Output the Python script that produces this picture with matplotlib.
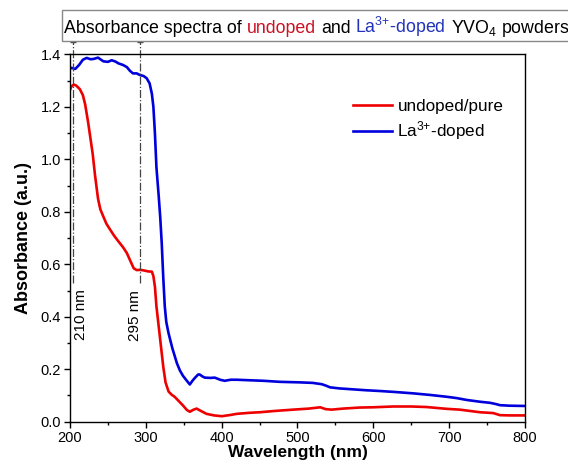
import matplotlib
matplotlib.use("Agg")
import matplotlib.pyplot as plt
from matplotlib.patches import Rectangle

plt.rcParams['font.family'] = ['Liberation Sans', 'DejaVu Sans']
plt.rcParams['mathtext.fontset'] = 'custom'
plt.rcParams['mathtext.rm'] = 'Liberation Sans'
plt.rcParams['mathtext.default'] = 'regular'

# undoped / pure YVO4
wl_pure = [200, 202, 205, 208, 213, 217, 220, 224, 227, 230, 233, 237, 240, 244, 248, 253,
           258, 264, 270, 275, 279, 284, 288, 292, 297, 303, 308, 310, 312, 314, 319,
           323, 326, 330, 334, 338, 343, 349, 354, 358, 363, 367, 372, 380, 390, 400,
           410, 420, 437, 450, 470, 494, 515, 530, 537, 545, 560, 582, 600, 626, 650,
           670, 697, 714, 741, 758, 767, 780, 800]
abs_pure = [1.265, 1.279, 1.285, 1.282, 1.268, 1.245, 1.21, 1.14, 1.08, 1.02, 0.94, 0.85,
            0.81, 0.782, 0.755, 0.732, 0.71, 0.687, 0.665, 0.643, 0.617, 0.585, 0.578,
            0.579, 0.577, 0.573, 0.572, 0.555, 0.515, 0.44, 0.312, 0.21, 0.15, 0.115,
            0.103, 0.095, 0.08, 0.062, 0.045, 0.038, 0.046, 0.05, 0.042, 0.03, 0.024,
            0.021, 0.025, 0.03, 0.034, 0.036, 0.041, 0.046, 0.05, 0.055, 0.048, 0.046,
            0.05, 0.054, 0.055, 0.058, 0.058, 0.056, 0.049, 0.046, 0.036, 0.033, 0.025,
            0.024, 0.024]

# La3+-doped YVO4
wl_la = [200, 202, 207, 212, 217, 222, 227, 231, 237, 241, 244, 250, 255, 260, 264, 270,
         275, 279, 283, 288, 292, 297, 301, 305, 308, 310, 312, 314, 317, 319, 321, 323,
         325, 327, 330, 335, 341, 345, 349, 353, 358, 362, 365, 369, 371, 375, 378, 385,
         391, 398, 404, 412, 420, 437, 455, 477, 503, 520, 532, 538, 543, 555, 565, 590,
         609, 630, 653, 675, 697, 710, 723, 741, 754, 762, 767, 780, 800]
abs_la = [1.345, 1.349, 1.345, 1.36, 1.38, 1.387, 1.382, 1.383, 1.388, 1.38, 1.374, 1.372,
          1.378, 1.373, 1.366, 1.36, 1.352, 1.338, 1.328, 1.328, 1.322, 1.318, 1.31, 1.29,
          1.25, 1.2, 1.1, 0.97, 0.86, 0.78, 0.68, 0.55, 0.44, 0.38, 0.337, 0.28, 0.223,
          0.195, 0.175, 0.16, 0.142, 0.158, 0.168, 0.18, 0.18, 0.172, 0.168, 0.167, 0.168,
          0.16, 0.156, 0.16, 0.16, 0.158, 0.156, 0.152, 0.15, 0.148, 0.143, 0.137, 0.131,
          0.127, 0.125, 0.12, 0.117, 0.113, 0.108, 0.102, 0.095, 0.09, 0.083, 0.076, 0.072,
          0.067, 0.063, 0.061, 0.06]

# band edge markers
edge_wl = [204, 292]
edge_labels = ["210 nm", "295 nm"]

W, H = 568, 465
fig = plt.figure(figsize=(W / 100, H / 100), dpi=100)
ax = fig.add_axes([0.1232, 0.0931, 0.8011, 0.7897])

la_label = 'La$^{3{+}}$-doped'
ax.plot(wl_pure, abs_pure, color='#ee0000', lw=1.9, label='undoped/pure')
ax.plot(wl_la, abs_la, color='#0000dd', lw=1.9, label=la_label)

# dash-dot guide lines, going up out of the axes
for w in edge_wl:
    ax.plot([w, w], [0.53, 1.448], color='#444444', lw=0.9, ls='-.', clip_on=False)
    ax.plot([w], [1.446], marker='_', ms=4, color='#444444', mew=1, clip_on=False)
ax.text(214.5, 0.407, edge_labels[0], rotation=90, ha='center', va='center', fontsize=11)
ax.text(286, 0.405, edge_labels[1], rotation=90, ha='center', va='center', fontsize=11)

ax.set_xlim(200, 800)
ax.set_ylim(0, 1.4)
ax.set_xticks([200, 300, 400, 500, 600, 700, 800])
ax.set_xticks(range(250, 800, 100), minor=True)
ax.set_yticks([0.0, 0.2, 0.4, 0.6, 0.8, 1.0, 1.2, 1.4])
ax.set_yticks([0.1, 0.3, 0.5, 0.7, 0.9, 1.1, 1.3], minor=True)
ax.yaxis.set_major_formatter(plt.FormatStrFormatter('%.1f'))
ax.tick_params(which='major', direction='out', length=4.5, width=1, labelsize=10.5, pad=2)
ax.tick_params(which='minor', direction='out', length=2.5, width=1)
for s in ax.spines.values():
    s.set_linewidth(1)

ax.set_xlabel('Wavelength (nm)', fontsize=12.5, fontweight='bold', labelpad=0)
ax.set_ylabel('Absorbance (a.u.)', fontsize=13, fontweight='bold', labelpad=6)

ax.legend(loc='upper left', bbox_to_anchor=(0.622, 0.878), frameon=False, fontsize=12.3,
          handlelength=2.3, handletextpad=0.3, labelspacing=0.3, borderpad=0,
          borderaxespad=0)

# title box with coloured words
fig.add_artist(Rectangle((62 / W, 1 - 41 / H), 0.95, 31 / H, transform=fig.transFigure,
                         fill=False, edgecolor='#888888', lw=1, clip_on=False))
pieces = [("Absorbance spectra of", 'black'), ("undoped", '#cc1122'), ("and", 'black'),
          (la_label, '#2233bb'), ("YVO$_{4}$ powders", 'black')]
fs = 12.8
renderer = fig.canvas.get_renderer()
x = 64
for txt, col in pieces:
    t = fig.text(x / W, 1 - 33 / H, txt, color=col, fontsize=fs, va='baseline')
    x = t.get_window_extent(renderer).x1 + 0.278 * fs * 100 / 72

fig.savefig('out.png', dpi=100)
